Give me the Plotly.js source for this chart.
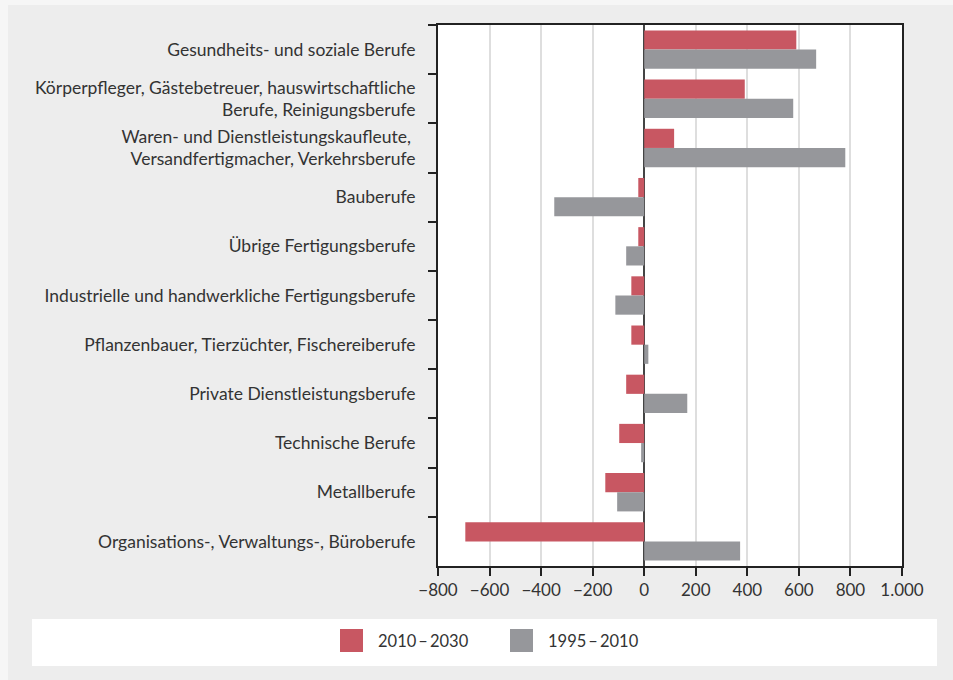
<!DOCTYPE html>
<html>
<head>
<meta charset="utf-8">
<script src="https://cdn.plot.ly/plotly-3.0.1.min.js"></script>
<style>html,body{margin:0;padding:0;background:#f6f6f6;}#chart{width:953px;height:680px;}</style>
</head>
<body>
<div id="chart"></div>
<script>
const categories = [
  "Gesundheits- und soziale Berufe",
  "Körperpfleger, Gästebetreuer, hauswirtschaftliche<br>Berufe, Reinigungsberufe",
  "Waren- und Dienstleistungskaufleute, <br>Versandfertigmacher, Verkehrsberufe",
  "Bauberufe",
  "Übrige Fertigungsberufe",
  "Industrielle und handwerkliche Fertigungsberufe",
  "Pflanzenbauer, Tierzüchter, Fischereiberufe",
  "Private Dienstleistungsberufe",
  "Technische Berufe",
  "Metallberufe",
  "Organisations-, Verwaltungs-, Büroberufe"
];
const series2010_2030 = [590, 390, 116, -23, -23, -50, -50, -70, -97, -151, -694];
const series1995_2010 = [667, 578, 780, -349, -70, -112, 16, 167, -12, -105, 372];
const seriesNames = ["2010\u2009–\u20092030", "1995\u2009–\u20092010"];
const seriesColors = ["#c85762", "#96979b"];
const xTickVals = [-800, -600, -400, -200, 0, 200, 400, 600, 800, 1000];

const font = "Lato, 'Open Sans', sans-serif";
const textColor = "#333333";

const traces = [
  {type: "bar", orientation: "h", name: seriesNames[0], y: categories, x: series2010_2030,
   marker: {color: seriesColors[0]}, showlegend: false, hoverinfo: "x+name"},
  {type: "bar", orientation: "h", name: seriesNames[1], y: categories, x: series1995_2010,
   marker: {color: seriesColors[1]}, showlegend: false, hoverinfo: "x+name"}
];

const W = 953, H = 680, ml = 438, mr = 51, mt = 25, mb = 114;
const pw = W - ml - mr, ph = H - mt - mb;
const px = v => (v - ml) / pw;
const py = v => (H - mb - v) / ph;

const shapes = [
  {type: "rect", xref: "paper", yref: "paper", x0: px(8), x1: px(953), y0: py(680), y1: py(5),
   fillcolor: "#ededed", line: {width: 0}, layer: "below"},
  {type: "rect", xref: "paper", yref: "paper", x0: 0, x1: 1, y0: 0, y1: 1,
   fillcolor: "#ffffff", line: {width: 0}, layer: "below"},
  {type: "rect", xref: "paper", yref: "paper", x0: px(32), x1: px(937), y0: py(666), y1: py(619),
   fillcolor: "#ffffff", line: {width: 0}, layer: "below"},
  {type: "rect", xref: "paper", yref: "paper", x0: px(340), x1: px(363), y0: py(652), y1: py(629),
   fillcolor: seriesColors[0], line: {width: 0}},
  {type: "rect", xref: "paper", yref: "paper", x0: px(510), x1: px(533), y0: py(652), y1: py(629),
   fillcolor: seriesColors[1], line: {width: 0}}
];
const annotations = [
  {xref: "paper", yref: "paper", x: px(376), y: py(641), xanchor: "left", yanchor: "middle",
   text: seriesNames[0], showarrow: false, font: {family: font, size: 16.5, color: textColor}},
  {xref: "paper", yref: "paper", x: px(546), y: py(641), xanchor: "left", yanchor: "middle",
   text: seriesNames[1], showarrow: false, font: {family: font, size: 16.5, color: textColor}}
];

const layout = {
  width: W, height: H,
  margin: {l: ml, r: mr, t: mt, b: mb, pad: 0},
  paper_bgcolor: "#f6f6f6",
  plot_bgcolor: "#ffffff",
  separators: ",.",
  barmode: "group",
  bargap: 0.22,
  bargroupgap: 0,
  showlegend: false,
  font: {family: font, size: 17.5, color: textColor},
  xaxis: {
    range: [-800, 1000], tickvals: xTickVals, tickformat: ",d", separatethousands: true,
    showgrid: true, gridcolor: "#dedede", gridwidth: 2,
    zeroline: true, zerolinecolor: "#444444", zerolinewidth: 2,
    showline: true, linecolor: "#222222", linewidth: 2, mirror: true,
    ticks: "outside", ticklen: 8, tickwidth: 2, tickcolor: "#222222",
    tickfont: {family: font, size: 17, color: textColor}, fixedrange: true
  },
  yaxis: {
    type: "category", autorange: "reversed", tickson: "boundaries",
    showgrid: false, showline: true, linecolor: "#222222", linewidth: 2, mirror: true,
    ticks: "outside", ticklen: 8, tickwidth: 2, tickcolor: "#222222",
    ticklabelstandoff: 17,
    tickfont: {family: font, size: 17.5, color: textColor}, fixedrange: true
  },
  shapes: shapes,
  annotations: annotations
};

Plotly.newPlot("chart", traces, layout, {displayModeBar: false, staticPlot: true});
</script>
</body>
</html>
